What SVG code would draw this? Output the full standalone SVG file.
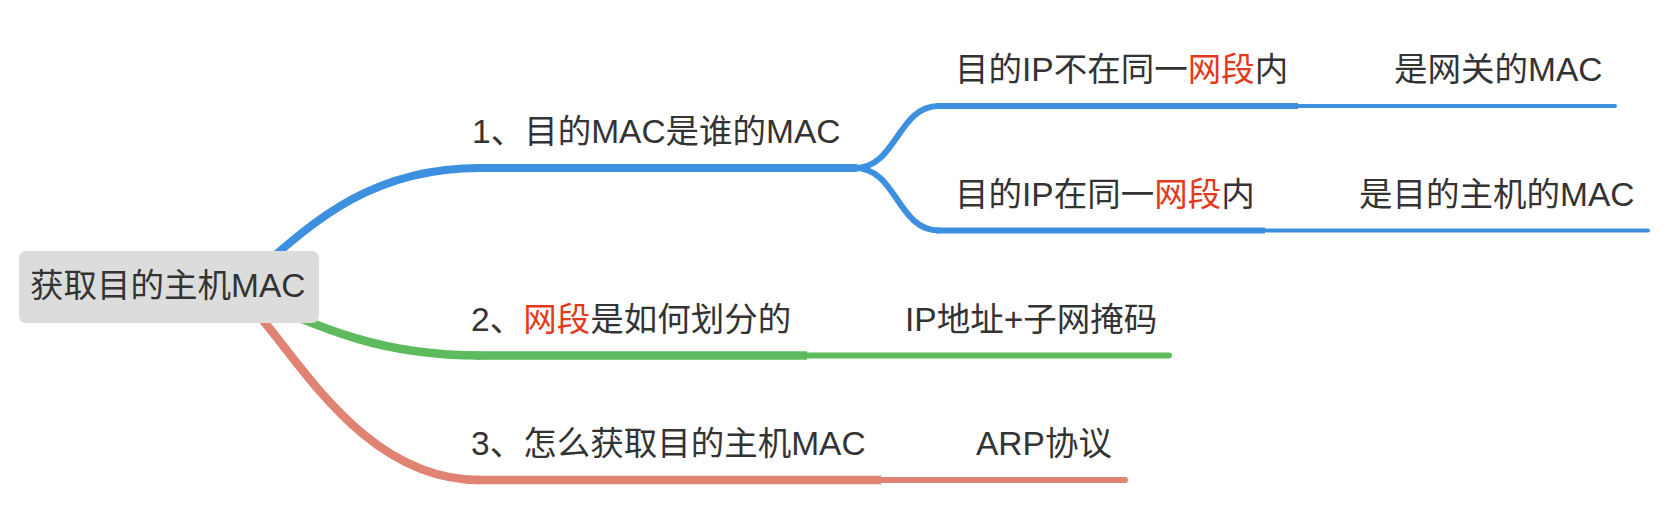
<svg xmlns="http://www.w3.org/2000/svg" width="1679" height="524" viewBox="0 0 1679 524">
  <style>
    .t { font-family: "Liberation Sans", "Noto Sans CJK SC", sans-serif; font-size: 33.5px; fill: #333333; }
    .hl { fill: #e4391b; }
    .c { fill: none; stroke-linecap: round; }
    .blue { stroke: #3d8fdf; }
    .green { stroke: #5dbb5d; }
    .red { stroke: #e08372; }
  </style>
  <rect width="1679" height="524" fill="#ffffff"/>
  <g id="connectors">
    <path class="c blue" stroke-width="8" d="M 235 290 C 305 230, 362 168, 480 168"/>
    <path class="c green" stroke-width="8.5" d="M 230 288 C 325 330, 380 355.5, 480 355.5"/>
    <path class="c red" stroke-width="8.5" d="M 240 295 C 290 340, 355 480, 480 480"/>
    <path class="c blue" stroke-width="6" d="M 855 168 C 897 168, 897 106, 939 106"/>
    <path class="c blue" stroke-width="6" d="M 855 168 C 897 168, 897 230.5, 939 230.5"/>
  </g>
  <g id="root">
    <rect x="19" y="251" width="300" height="72" rx="7" fill="#dcdcdc"/>
    <text class="t" x="30" y="297">获取目的主机MAC</text>
  </g>
  <g id="node1">
    <line class="blue" stroke-width="8" x1="476" y1="168" x2="857" y2="168"/>
    <text class="t" x="472" y="143">1、目的MAC是谁的MAC</text>
  </g>
  <g id="node1a">
    <line class="blue" stroke-width="6" x1="936" y1="106" x2="1298" y2="106"/>
    <text class="t" x="955" y="81">目的IP不在同一<tspan class="hl">网段</tspan>内</text>
  </g>
  <g id="node1a1">
    <line class="c blue" stroke-width="4" x1="1298" y1="106" x2="1615" y2="106"/>
    <text class="t" x="1394" y="81">是网关的MAC</text>
  </g>
  <g id="node1b">
    <line class="blue" stroke-width="6" x1="936" y1="230.5" x2="1265" y2="230.5"/>
    <text class="t" x="955" y="206">目的IP在同一<tspan class="hl">网段</tspan>内</text>
  </g>
  <g id="node1b1">
    <line class="c blue" stroke-width="4" x1="1265" y1="230.5" x2="1648" y2="230.5"/>
    <text class="t" x="1359" y="206">是目的主机的MAC</text>
  </g>
  <g id="node2">
    <line class="green" stroke-width="8.5" x1="476" y1="355.5" x2="807" y2="355.5"/>
    <text class="t" x="471" y="331">2、<tspan class="hl">网段</tspan>是如何划分的</text>
  </g>
  <g id="node2a">
    <line class="c green" stroke-width="6" x1="807" y1="355.5" x2="1169" y2="355.5"/>
    <text class="t" x="905" y="331">IP地址+子网掩码</text>
  </g>
  <g id="node3">
    <line class="red" stroke-width="8.5" x1="476" y1="480" x2="881" y2="480"/>
    <text class="t" x="471" y="455">3、怎么获取目的主机MAC</text>
  </g>
  <g id="node3a">
    <line class="c red" stroke-width="6" x1="881" y1="480" x2="1125" y2="480"/>
    <text class="t" x="976" y="455">ARP协议</text>
  </g>
</svg>
